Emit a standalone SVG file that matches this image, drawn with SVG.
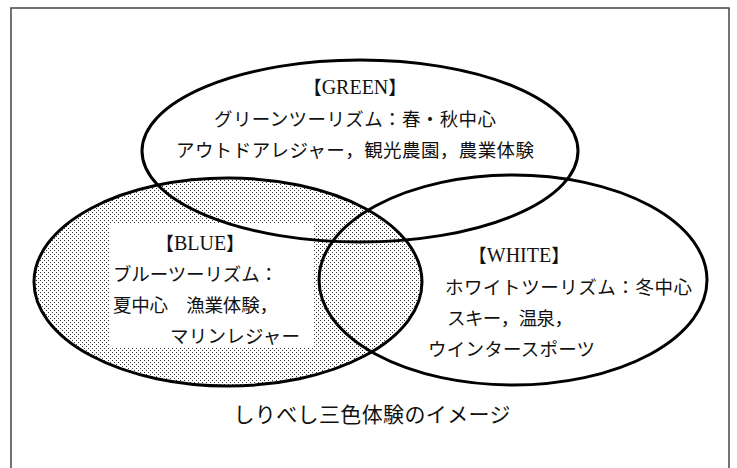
<svg xmlns="http://www.w3.org/2000/svg" width="737" height="468" viewBox="0 0 737 468">
<style>
.ring{fill:none;stroke:#000;stroke-width:3}
.jp{font-family:"Noto Sans CJK JP","Noto Sans",sans-serif;font-size:18.5px;fill:#111}
.hd{font-family:"Liberation Serif","Noto Sans CJK JP",serif;font-size:18.5px;fill:#111}
.lt{font-size:20px}
.cap{font-family:"Noto Sans CJK JP","Noto Sans",sans-serif;font-size:21px;fill:#111}
</style>
<defs>
<pattern id="dots" width="4" height="4" patternUnits="userSpaceOnUse">
<rect width="4" height="4" fill="#fff"/>
<rect x="0" y="0" width="1" height="1" fill="#333"/>
<rect x="2" y="2" width="1" height="1" fill="#333"/>
</pattern>
</defs>
<rect x="0" y="0" width="737" height="468" fill="#fff"/>
<rect x="11" y="8" width="718" height="470" fill="none" stroke="#444" stroke-width="1.5"/>
<g id="blue-fill">
<ellipse cx="228" cy="282" rx="194" ry="104" fill="url(#dots)"/>
<rect x="110" y="223" width="204" height="124" fill="#fff"/>
</g>
<g id="connectors"></g>
<g id="green">
<ellipse class="ring" cx="360" cy="151" rx="218" ry="91"/>
<text class="hd" x="355" y="94" text-anchor="middle">【<tspan class="lt">GREEN</tspan>】</text>
<text class="jp" x="355" y="126" text-anchor="middle" textLength="282" lengthAdjust="spacing">グリーンツーリズム：春・秋中心</text>
<text class="jp" x="355" y="157" text-anchor="middle" textLength="358" lengthAdjust="spacing">アウトドアレジャー，観光農園，農業体験</text>
</g>
<g id="blue">
<ellipse class="ring" cx="228" cy="282" rx="194" ry="104"/>
<text class="hd" x="200" y="250" text-anchor="middle">【<tspan class="lt">BLUE</tspan>】</text>
<text class="jp" x="113" y="281" textLength="165" lengthAdjust="spacing">ブルーツーリズム：</text>
<text class="jp" x="113" y="312" textLength="165" lengthAdjust="spacing">夏中心　漁業体験，</text>
<text class="jp" x="170" y="343" textLength="130" lengthAdjust="spacing">マリンレジャー</text>
</g>
<g id="white">
<ellipse class="ring" cx="513" cy="280" rx="194" ry="105"/>
<text class="hd" x="519" y="262" text-anchor="middle">【<tspan class="lt">WHITE</tspan>】</text>
<text class="jp" x="445" y="294" textLength="247" lengthAdjust="spacing">ホワイトツーリズム：冬中心</text>
<text class="jp" x="447" y="325" textLength="126" lengthAdjust="spacing">スキー，温泉，</text>
<text class="jp" x="428" y="356" textLength="167" lengthAdjust="spacing">ウインタースポーツ</text>
</g>
<g id="caption">
<text class="cap" x="372" y="422" text-anchor="middle" textLength="277" lengthAdjust="spacing">しりべし三色体験のイメージ</text>
</g>
</svg>
